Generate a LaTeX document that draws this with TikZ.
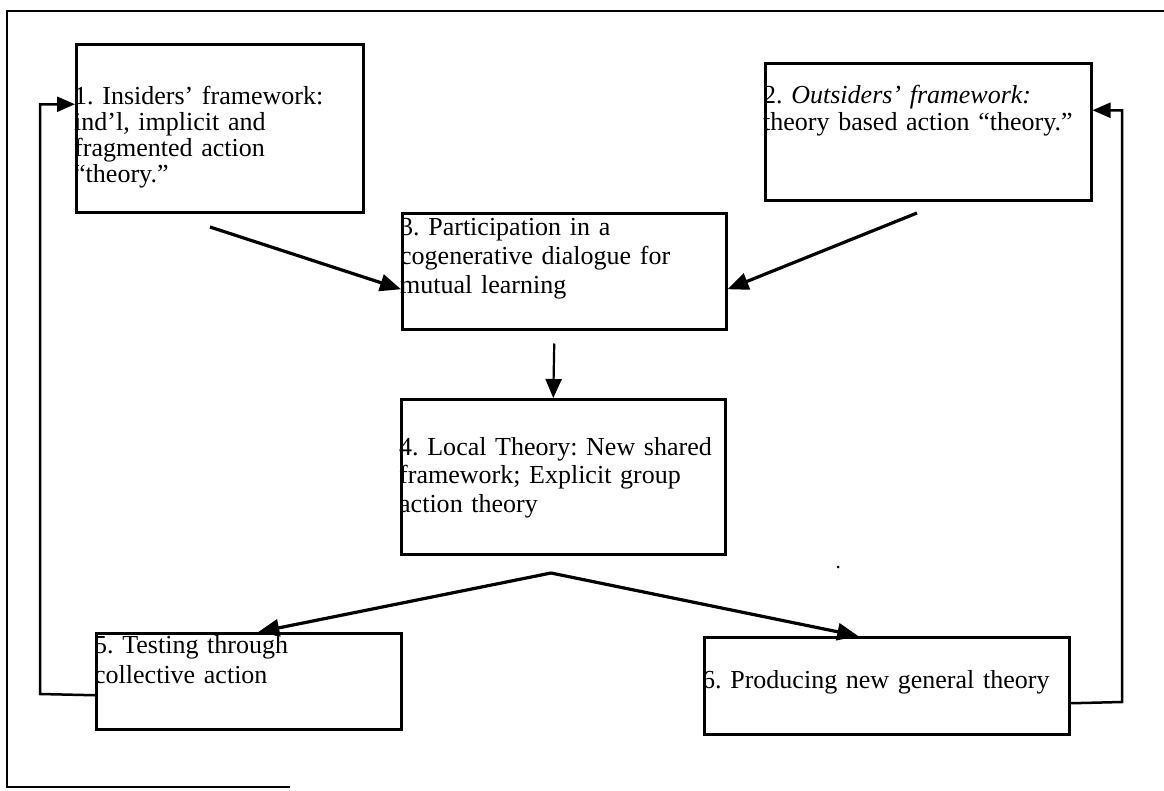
\documentclass[tikz,border=0pt]{standalone}
\usepackage{fontspec}
\setmainfont{Liberation Serif}
\usetikzlibrary{arrows.meta}
\frenchspacing
\begin{document}
\begin{tikzpicture}[x=1pt,y=-1pt,
  box/.style={draw,line width=2.5pt,inner sep=0pt,anchor=north west},
  txt/.style={anchor=base west,inner sep=0pt,align=left,text width=#1,font=\fontsize{26}{28}\selectfont},
  conn/.style={line width=3.2pt,-{Triangle[length=21pt,width=17pt]}},
  thinconn/.style={line width=2.2pt,-{Triangle[length=19pt,width=16pt]}},
  fb/.style={line width=2.5pt,line join=miter,-{Triangle[length=18pt,width=15pt]}}
]
\useasboundingbox (0,0) rectangle (1164,790);
% frame
\draw[line width=2.5pt] (290,787) -- (7,787) -- (7,11) -- (1164,11);
% boxes
\node[box,minimum width=287pt,minimum height=168pt] (b1) at (75,43) {};
\node[box,minimum width=326pt,minimum height=137pt] (b2) at (764,62) {};
\node[box,minimum width=324pt,minimum height=116pt] (b3) at (401,212) {};
\node[box,minimum width=324pt,minimum height=155pt] (b4) at (400,398) {};
\node[box,minimum width=305pt,minimum height=96pt] (b5) at (95,632) {};
\node[box,minimum width=365pt,minimum height=97pt] (b6) at (703,636) {};
% texts
\node[txt=300pt,font=\fontsize{26}{26}\selectfont] (t1) at (74,104) {1. Insiders’ framework:\\ind’l, implicit and\\fragmented action\\“theory.”};
\node[txt=340pt,font=\fontsize{26}{27}\selectfont] (t2) at (763,103) {2. \textit{Outsiders’ framework:}\\theory based action “theory.”};
\node[txt=330pt,font=\fontsize{26}{29}\selectfont] (t3) at (400,235) {3. Participation in a\\cogenerative dialogue for\\mutual learning};
\node[txt=330pt,font=\fontsize{26}{28.5}\selectfont] (t4) at (399,455) {4. Local Theory: New shared\\framework; Explicit group\\action theory};
\node[txt=310pt,font=\fontsize{26}{30}\selectfont] (t5) at (94,653) {5. Testing through\\collective action};
\node[txt=370pt] (t6) at (702,688) {6. Producing new general theory};
% connector points
\coordinate (s1) at (210,227);
\coordinate (s2) at (917,213);
\coordinate (apex) at (551,573);
\coordinate (fbl) at (40,694);
\coordinate (fbr) at (1122,702);
% connectors
\draw[conn] (s1) -- ([yshift=-18pt]b3.west);
\draw[conn] (s2) -- ([yshift=-18pt]b3.east);
\draw[thinconn] ([xshift=-10pt,yshift=-13pt]b3.south) -- ([xshift=-10pt]b4.north);
\draw[conn] (apex) -- ([xshift=9.5pt]b5.north);
\draw[conn] (apex) -- ([xshift=-28.5pt]b6.north);
\draw[fb] ([yshift=-14pt]b5.west) -- (fbl) |- ([yshift=24pt]b1.west);
\draw[fb] ([yshift=-17.5pt]b6.east) -- (fbr) |- ([yshift=21.5pt]b2.east);
% scan speck
\fill (838,567) circle (1.5pt);
\end{tikzpicture}
\end{document}
